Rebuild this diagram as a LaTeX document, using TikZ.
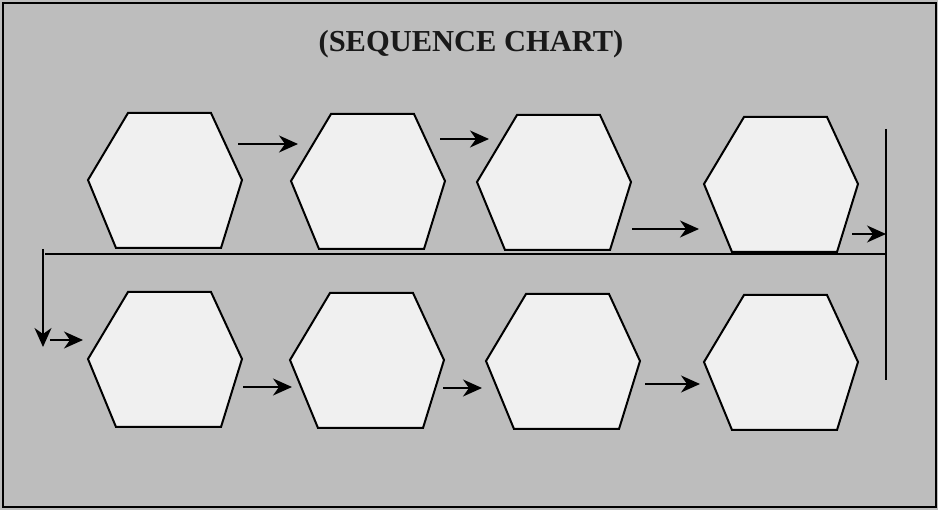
\documentclass[tikz,border=0pt]{standalone}
\usepackage{fontspec}
\setmainfont{Liberation Serif}
\usetikzlibrary{arrows.meta}
\definecolor{bgcol}{gray}{0.74}
\definecolor{hexfill}{gray}{0.94}
\tikzset{
  hexbox/.style={draw=black, fill=hexfill, line width=2pt, line join=miter},
  flow/.style={draw=black, line width=1.3pt, arrows={-Stealth[length=19pt,width=17pt,inset=6pt]}},
  rail/.style={draw=black, line width=1.5pt},
  titletext/.style={font=\bfseries\fontsize{30.5}{36}\selectfont, text=black!90}
}
\newcommand\hexat[3]{%
  \coordinate (#1) at (#2+77,#3+67);
  \draw[hexbox] (#2,#3+67) -- (#2+40,#3) -- (#2+123,#3) -- (#2+154,#3+67)
    -- (#2+133,#3+135) -- (#2+28,#3+135) -- cycle;}
\begin{document}
\begin{tikzpicture}[x=1pt,y=-1pt]
\useasboundingbox (0,0) rectangle (938,510);
\fill[bgcol] (0,0) rectangle (938,510);
\draw[line width=1.5pt] (3,3) rectangle (936,507);
\node[titletext] (title) at (471,44) {(SEQUENCE CHART)};
% hexagons row 1
\hexat{h1}{88}{113}
\hexat{h2}{291}{114}
\hexat{h3}{477}{115}
\hexat{h4}{704}{117}
% hexagons row 2
\hexat{h5}{88}{292}
\hexat{h6}{290}{293}
\hexat{h7}{486}{294}
\hexat{h8}{704}{295}
% connector coordinates
\coordinate (a1s) at (238,144); \coordinate (a1e) at (298,144);
\coordinate (a2s) at (440,139); \coordinate (a2e) at (489,139);
\coordinate (a3s) at (632,229); \coordinate (a3e) at (699,229);
\coordinate (a4s) at (852,234); \coordinate (a4e) at (886,234);
\coordinate (railtop) at (886,129); \coordinate (railbot) at (886,380);
\coordinate (hr) at (886,254); \coordinate (hl) at (45,254);
\coordinate (ds) at (43,249); \coordinate (de) at (43,347);
\coordinate (rs) at (50,340); \coordinate (re) at (83,340);
\coordinate (b1s) at (243,387); \coordinate (b1e) at (292,387);
\coordinate (b2s) at (443,388); \coordinate (b2e) at (482,388);
\coordinate (b3s) at (645,384); \coordinate (b3e) at (700,384);
% rails
\draw[rail] (railtop) -- (railbot);
\draw[rail] (hr) -- (hl);
% arrows
\draw[flow] (a1s) -- (a1e);
\draw[flow] (a2s) -- (a2e);
\draw[flow] (a3s) -- (a3e);
\draw[flow] (a4s) -- (a4e);
\draw[flow] (ds) -- (de);
\draw[flow] (rs) -- (re);
\draw[flow] (b1s) -- (b1e);
\draw[flow] (b2s) -- (b2e);
\draw[flow] (b3s) -- (b3e);
\end{tikzpicture}
\end{document}
